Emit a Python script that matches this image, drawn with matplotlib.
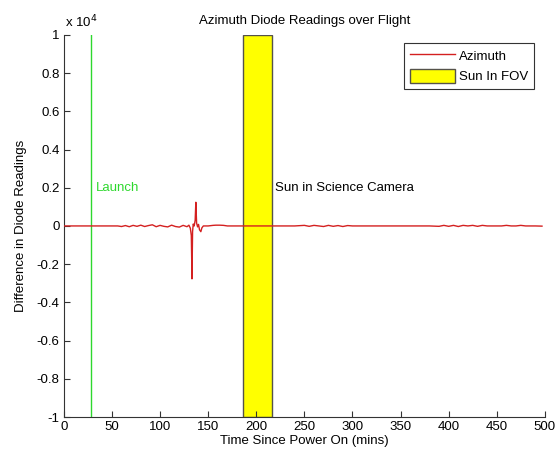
import matplotlib
matplotlib.use("Agg")
import matplotlib.pyplot as plt

plt.rcParams['font.family'] = ['Liberation Sans', 'DejaVu Sans']

# Data (time in minutes, azimuth diode difference)
time_min = [0, 10, 20, 30, 40, 50, 56, 60, 64, 68, 72, 76, 80, 84, 88, 92, 96, 100,
            104, 108, 112, 116, 120, 124, 128, 130, 131.5, 132.5, 133.2, 133.8, 134.5,
            135.5, 136.5, 137.2, 138, 139, 140, 141, 142.4, 143.5, 145, 150, 155, 158,
            162, 166, 170, 180, 190, 200, 210, 220, 230, 240, 250, 255, 260, 265, 270,
            275, 280, 285, 290, 295, 300, 305, 310, 315, 320, 325, 330, 340, 350, 360,
            370, 380, 390, 395, 400, 405, 410, 415, 420, 425, 430, 435, 440, 445, 450,
            455, 460, 465, 470, 475, 480, 485, 490, 497]
azimuth = [0, 0, 0, 0, 0, 0, 0, -30, 20, -40, 30, -20, 40, -30, 20, 60, -40, 30,
           -20, -50, 40, -30, -60, 30, -40, 40, -120, -500, -2770, -300, 100,
           0, 300, 1240, 150, -50, 80, -200, -300, -100, 0, 0, 30, 40,
           40, 30, 0, 0, 0, 0, 0, 0, 0, 0, 30, -20, 30, 0, -30,
           30, -20, 20, -30, 20, 0, 0, 0, 0, 0, 0, 0, 0, 0, 0,
           0, 0, -20, 30, -20, 30, -30, 30, 0, 30, -20, 30, 0, 0, 0,
           0, 30, 0, 0, 30, 0, 0, 0, -10]

launch_time = 28
sun_start, sun_end = 186, 216
y_ticks = [-10000, -8000, -6000, -4000, -2000, 0, 2000, 4000, 6000, 8000, 10000]
y_tick_labels = ['-1', '-0.8', '-0.6', '-0.4', '-0.2', '0', '0.2', '0.4', '0.6', '0.8', '1']
x_ticks = [0, 50, 100, 150, 200, 250, 300, 350, 400, 450, 500]

FS = 9.5
fig = plt.figure(figsize=(5.6, 4.59), dpi=100)
ax = fig.add_axes([0.114, 0.0915, 0.859, 0.8325])

ax.axvspan(sun_start, sun_end, facecolor='#ffff00', edgecolor='#55524a', linewidth=1.0,
           label='Sun In FOV', zorder=1)
ax.plot(time_min, azimuth, color='#d42020', linewidth=1.0, label='Azimuth', zorder=3)
ax.axvline(launch_time, color='#2ed82e', linewidth=1.0, zorder=2)

ax.text(33, 2000, 'Launch', color='#2ed82e', fontsize=FS, va='center', ha='left')
ax.text(220, 2000, 'Sun in Science Camera', color='black', fontsize=FS, va='center', ha='left')

ax.set_xlim(0, 500)
ax.set_ylim(-10000, 10000)
ax.set_xticks(x_ticks)
ax.set_xticklabels([str(v) for v in x_ticks])
ax.set_yticks(y_ticks)
ax.set_yticklabels(y_tick_labels)
ax.tick_params(direction='in', length=4, labelsize=FS, color='#333333', pad=3)
for s in ['top', 'right']:
    ax.spines[s].set_visible(False)
for s in ['left', 'bottom']:
    ax.spines[s].set_color('#333333')

ax.text(0.002, 1.012, r'x 10$^4$', transform=ax.transAxes, fontsize=FS, ha='left', va='bottom')
ax.set_title('Azimuth Diode Readings over Flight', fontsize=FS, pad=8)
ax.set_xlabel('Time Since Power On (mins)', fontsize=FS, labelpad=1)
ax.set_ylabel('Difference in Diode Readings', fontsize=FS, labelpad=7)

handles, labels = ax.get_legend_handles_labels()
order = [labels.index('Azimuth'), labels.index('Sun In FOV')]
leg = ax.legend([handles[i] for i in order], [labels[i] for i in order], loc='upper right',
                fontsize=FS, fancybox=False, edgecolor='#333333', framealpha=1,
                bbox_to_anchor=(0.977, 0.979), borderaxespad=0,
                handlelength=3.4, handleheight=1.2, handletextpad=0.3, borderpad=0.45,
                labelspacing=0.45)
leg.get_frame().set_linewidth(0.8)

fig.savefig('out.png', dpi=100, facecolor='white')
